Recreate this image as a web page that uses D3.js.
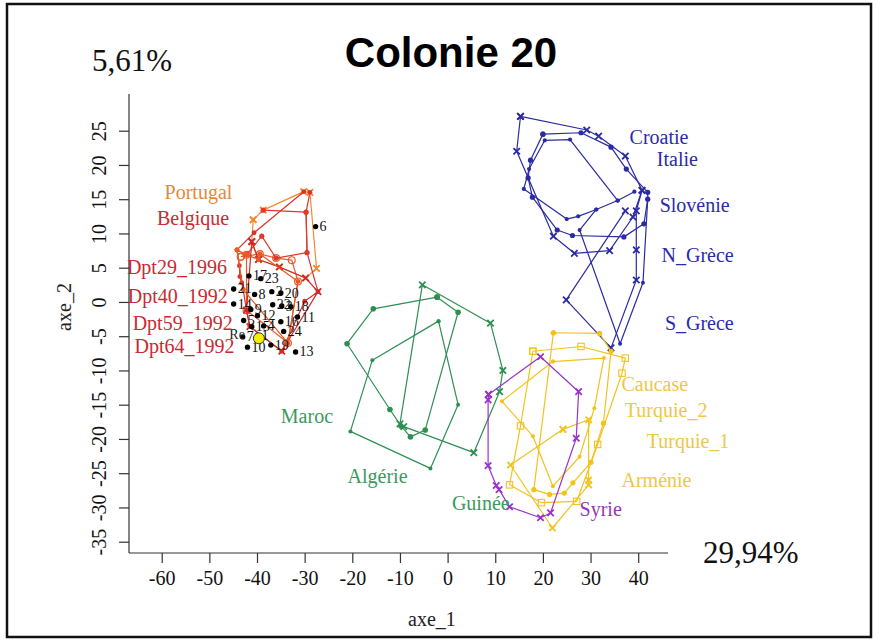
<!DOCTYPE html>
<html>
<head>
<meta charset="utf-8">
<script src="https://cdn.jsdelivr.net/npm/d3@7"></script>
<style>
  html, body { margin: 0; padding: 0; background: #fff; }
  svg { display: block; }
</style>
</head>
<body>
<svg id="chart" width="873" height="640"></svg>
<script>
// ---------------- data ----------------
const xTicks = [-60, -50, -40, -30, -20, -10, 0, 10, 20, 30, 40];
const yTicks = [25, 20, 15, 10, 5, 0, -5, -10, -15, -20, -25, -30, -35];

// trajectories on the factorial plane, points are [axe_1, axe_2]
const croatie  = [[15.3,27.1],[29.2,25.1],[31.7,24.2],[37.3,21.3],[40.8,16.3],[38.9,12.4],[34.0,7.5],[26.6,7.1],[22.2,9.6],[14.5,22.0],[15.3,27.1]];
const italie   = [[20.0,24.5],[28.0,24.7],[34.3,22.6],[37.5,19.4],[42.0,16.0],[42.0,15.0],[41.2,11.4],[37.0,9.5],[26.2,9.7],[23.0,10.5],[17.8,15.3],[16.9,18.1],[17.4,20.7],[20.0,24.5]];
const slovenie = [[39.2,16.1],[35.7,14.8],[25.7,23.7],[20.4,23.6],[17.1,19.4],[16.0,16.5],[25.0,12.1],[27.4,12.5],[31.2,13.5],[35.7,14.8]];
const nGrece   = [[40.8,16.3],[39.6,13.3],[39.6,7.6],[39.6,3.2],[34.3,-6.7],[24.9,0.3],[37.3,13.3]];
const sGrece   = [[42.0,15.0],[41.0,2.8],[36.2,-6.1],[27.7,10.5],[31.2,13.5]];

const maroc    = [[-2.2,0.7],[-15.6,-1.0],[-21.1,-6.1],[-12.1,-15.7],[-9.8,-18.1],[-7.8,-19.7],[-4.7,-18.7],[2.2,-1.5],[-2.2,0.7]];
const algerie  = [[-1.9,-2.8],[-15.8,-8.5],[-20.4,-18.9],[-3.6,-24.3],[2.2,-15.0],[-1.9,-2.8]];
const guinee   = [[-10.0,-17.8],[-5.3,2.5],[9.0,-3.1],[11.6,-10.0],[10.9,-13.1],[5.5,-22.0],[-9.2,-18.2]];

const syrie    = [[8.6,-13.5],[19.5,-8.0],[27.5,-13.1],[27.0,-19.9],[21.6,-30.8],[19.5,-31.5],[13.0,-29.9],[10.8,-27.4],[10.2,-26.8],[8.5,-23.9],[8.5,-14.3],[8.6,-13.5]];

const caucase  = [[22.2,-4.5],[31.9,-4.6],[34.3,-7.2],[32.7,-17.7],[30.1,-23.4],[26.3,-26.4],[24.5,-27.9],[21.4,-28.1],[18.1,-27.4],[22.2,-4.5]];
const turquie1 = [[17.9,-7.2],[28.0,-6.5],[37.3,-8.2],[36.6,-10.4],[31.5,-20.8],[27.1,-29.1],[19.7,-29.3],[13.0,-26.7],[15.3,-18.1],[17.9,-7.2]];
const turquie2 = [[22.1,-8.7],[32.8,-8.2],[30.8,-15.5],[27.7,-22.6],[22.1,-26.9],[17.9,-19.6],[11.4,-14.5],[22.1,-8.7]];
const armenie  = [[24.2,-18.6],[29.6,-17.2],[29.6,-26.0],[29.6,-26.7],[22.0,-33.0],[13.2,-23.8],[24.2,-18.6]];

const portugal = [[-40.8,12.0],[-38.7,13.4],[-30.2,16.1],[-28.9,16.0],[-27.5,4.9],[-29.8,3.5],[-35.3,5.1],[-39.7,6.2],[-41.1,8.8],[-40.8,12.0]];
const belgique = [[-30.2,16.1],[-40.6,10.1],[-44.2,7.6],[-43.7,5.3],[-43.6,3.7],[-43.2,2.8],[-42.9,1.8],[-42.2,-1.2],[-41.5,-3.6],[-34.8,-7.2],[-30.0,0.1],[-27.2,1.5],[-29.5,7.2],[-29.7,13.1],[-28.9,16.0]];
const dpt29    = [[-43.4,6.6],[-39.4,7.0],[-36.0,6.4],[-32.7,6.1],[-31.4,3.0],[-33.5,-6.0],[-42.2,-1.2],[-42.2,6.9],[-43.4,6.6]];
const dpt40    = [[-42.2,6.9],[-39.0,9.6],[-36.0,6.4],[-29.5,7.2],[-29.7,13.1],[-38.7,13.4]];
const dpt59    = [[-41.1,8.8],[-39.7,6.2],[-35.3,5.1],[-29.8,3.5],[-27.2,1.5],[-34.8,-7.2],[-41.5,-3.6],[-42.2,-1.2],[-41.1,8.8]];
const dpt64    = [[-44.2,7.6],[-42.2,6.9],[-39.7,6.2],[-39.4,7.0],[-31.4,3.0],[-33.5,-6.0],[-42.9,1.8],[-44.2,7.6]];

// individual colonies (numbered) and the reference colony
const sampleIds = ["17","23","21","8","2","20","14","22","3","18","11","16","24","5","12","9","4","15","1","7","10","19","13","6"];
const sampleX   = [-41.7,-39.2,-44.9,-40.5,-36.9,-35.0,-44.9,-36.7,-34.8,-32.9,-31.5,-35.0,-34.4,-42.8,-39.9,-41.3,-38.6,-41.1,-39.9,-43.0,-42.0,-37.1,-31.9,-27.7];
const sampleY   = [3.8,3.4,1.9,1.1,1.5,1.3,-0.3,-0.4,-0.6,-0.7,-2.2,-2.9,-4.3,-2.7,-2.0,-1.1,-3.5,-3.6,-4.9,-5.1,-6.6,-6.3,-7.3,11.0];
const refName   = "Re";
const refPoint  = [-39.6,-5.3];

// group labels, anchored at [axe_1, axe_2]
const groupLabels = [
  {text:"Croatie",    at:[38.2,23.1],  group:"blue"},
  {text:"Italie",     at:[43.9,19.9],  group:"blue"},
  {text:"Slovénie",   at:[44.5,13.2],  group:"blue"},
  {text:"N_Grèce",    at:[44.9,5.9],   group:"blue"},
  {text:"S_Grèce",    at:[45.6,-4.1],  group:"blue"},
  {text:"Portugal",   at:[-59.4,15.1], group:"orange"},
  {text:"Belgique",   at:[-61.0,11.3], group:"red"},
  {text:"Dpt29_1996", at:[-67.3,4.1],  group:"red"},
  {text:"Dpt40_1992", at:[-67.1,-0.1], group:"red"},
  {text:"Dpt59_1992", at:[-66.1,-4.1], group:"red"},
  {text:"Dpt64_1992", at:[-65.7,-7.4], group:"red"},
  {text:"Maroc",      at:[-35.0,-17.6],group:"green"},
  {text:"Algérie",    at:[-21.0,-26.4],group:"green"},
  {text:"Guinée",     at:[0.9,-30.3],  group:"green"},
  {text:"Syrie",      at:[27.7,-31.2], group:"purple"},
  {text:"Caucase",    at:[36.5,-13.0], group:"yellow"},
  {text:"Turquie_2",  at:[37.2,-16.8], group:"yellow"},
  {text:"Turquie_1",  at:[41.8,-21.3], group:"yellow"},
  {text:"Arménie",    at:[36.5,-27.0], group:"yellow"}
];

// ---------------- styles ----------------
const labelColor = {
  blue: "#2a2aae", orange: "#e8873a", red: "#c92a30",
  green: "#3a9a5c", purple: "#9436b8", yellow: "#efc64a"
};

const series = [
  {pts: croatie,  stroke:"#2b2ba3", marker:"x",      size:3.2},
  {pts: italie,   stroke:"#2b2ba3", marker:"dot",    size:2.6},
  {pts: slovenie, stroke:"#2b2ba3", marker:"dot",    size:2.1},
  {pts: nGrece,   stroke:"#2b2ba3", marker:"x",      size:3.2},
  {pts: sGrece,   stroke:"#2b2ba3", marker:"dot",    size:2.0},
  {pts: maroc,    stroke:"#2f8f52", marker:"dot",    size:2.8},
  {pts: algerie,  stroke:"#2f8f52", marker:"dot",    size:2.0},
  {pts: guinee,   stroke:"#2f8f52", marker:"x",      size:3.2},
  {pts: caucase,  stroke:"#f2c31c", marker:"dot",    size:2.6},
  {pts: turquie1, stroke:"#f2c31c", marker:"square", size:3.2},
  {pts: turquie2, stroke:"#f2c31c", marker:"dot",    size:2.0},
  {pts: armenie,  stroke:"#f2c31c", marker:"x",      size:3.2},
  {pts: syrie,    stroke:"#9b32c8", marker:"x",      size:3.2},
  {pts: portugal, stroke:"#f08a30", marker:"x",      size:3.2},
  {pts: belgique, stroke:"#d8342c", marker:"dot",    size:2.4},
  {pts: dpt29,    stroke:"#e85a2c", marker:"circle", size:3.4},
  {pts: dpt40,    stroke:"#dd3a2a", marker:"dot",    size:2.6},
  {pts: dpt59,    stroke:"#d02a2a", marker:"x",      size:3.2},
  {pts: dpt64,    stroke:"#ea5a22", marker:"dot",    size:2.4}
];

// ---------------- drawing ----------------
const svg = d3.select("#chart");
const W = 873, H = 640;
const serif = "'Liberation Serif', 'Times New Roman', serif";

svg.append("rect").attr("width", W).attr("height", H).attr("fill", "#fff");
svg.append("rect")
  .attr("x", 7).attr("y", 4).attr("width", 864).attr("height", 633)
  .attr("fill", "none").attr("stroke", "#111").attr("stroke-width", 2.5);

const x = d3.scaleLinear().domain([-60, 40]).range([161.7, 638.2]);
const y = d3.scaleLinear().domain([-35, 25]).range([541.7, 130.7]);

// axis frame (left and bottom only)
const axisLeftX = 129, axisBottomY = 553;
svg.append("line")
  .attr("x1", axisLeftX).attr("x2", axisLeftX).attr("y1", 94).attr("y2", axisBottomY)
  .attr("stroke", "#333").attr("stroke-width", 1.2);
svg.append("line")
  .attr("x1", axisLeftX).attr("x2", 668).attr("y1", axisBottomY).attr("y2", axisBottomY)
  .attr("stroke", "#333").attr("stroke-width", 1.2);

const gx = svg.append("g").attr("transform", `translate(0,${axisBottomY})`)
  .call(d3.axisBottom(x).tickValues(xTicks).tickSize(10).tickPadding(8).tickFormat(d3.format("d")));
gx.select(".domain").remove();
gx.selectAll(".tick line").attr("stroke", "#333").attr("stroke-width", 1.2);
gx.selectAll(".tick text")
  .attr("font-family", serif).attr("font-size", 20).attr("fill", "#111")
  .text(d => d < 0 ? "-" + Math.abs(d) : d);

const gy = svg.append("g").attr("transform", `translate(${axisLeftX},0)`)
  .call(d3.axisLeft(y).tickValues(yTicks).tickSize(10).tickFormat(d3.format("d")));
gy.select(".domain").remove();
gy.selectAll(".tick line").attr("stroke", "#333").attr("stroke-width", 1.2);
gy.selectAll(".tick text")
  .attr("font-family", serif).attr("font-size", 20).attr("fill", "#111")
  .attr("text-anchor", "middle").attr("dy", null)
  .attr("x", null)
  .attr("transform", "translate(-23,0) rotate(-90)")
  .text(d => d < 0 ? "-" + Math.abs(d) : d);

svg.append("text")
  .attr("x", 432).attr("y", 626)
  .attr("text-anchor", "middle")
  .attr("font-family", serif).attr("font-size", 20).attr("fill", "#222")
  .text("axe_1");
svg.append("text")
  .attr("transform", "translate(71,307) rotate(-90)")
  .attr("text-anchor", "middle")
  .attr("font-family", serif).attr("font-size", 20).attr("fill", "#222")
  .text("axe_2");

// trajectories
const line = d3.line().x(d => x(d[0])).y(d => y(d[1]));
const plot = svg.append("g");

series.forEach(s => {
  const g = plot.append("g");
  g.append("path")
    .attr("d", line(s.pts))
    .attr("fill", "none").attr("stroke", s.stroke)
    .attr("stroke-width", 1.2).attr("stroke-linejoin", "round");
  const r = s.size;
  if (s.marker === "dot") {
    g.selectAll("circle").data(s.pts).join("circle")
      .attr("cx", d => x(d[0])).attr("cy", d => y(d[1])).attr("r", r)
      .attr("fill", s.stroke);
  } else if (s.marker === "circle") {
    g.selectAll("circle").data(s.pts).join("circle")
      .attr("cx", d => x(d[0])).attr("cy", d => y(d[1])).attr("r", r)
      .attr("fill", "none").attr("stroke", s.stroke).attr("stroke-width", 1.2);
  } else if (s.marker === "square") {
    g.selectAll("rect").data(s.pts).join("rect")
      .attr("x", d => x(d[0]) - r).attr("y", d => y(d[1]) - r)
      .attr("width", 2 * r).attr("height", 2 * r)
      .attr("fill", "none").attr("stroke", s.stroke).attr("stroke-width", 1.1);
  } else if (s.marker === "x") {
    g.selectAll("path.mk").data(s.pts).join("path").attr("class", "mk")
      .attr("d", d => {
        const cx = x(d[0]), cy = y(d[1]);
        return `M${cx - r},${cy - r}L${cx + r},${cy + r}M${cx - r},${cy + r}L${cx + r},${cy - r}`;
      })
      .attr("stroke", s.stroke).attr("stroke-width", 1.8).attr("fill", "none");
  }
});

// numbered colonies
const samples = sampleIds.map((id, i) => ({id, x: sampleX[i], y: sampleY[i]}));
const sg = svg.append("g");
sg.selectAll("circle").data(samples).join("circle")
  .attr("cx", d => x(d.x)).attr("cy", d => y(d.y)).attr("r", 2.7).attr("fill", "#000");
sg.selectAll("text").data(samples).join("text")
  .attr("x", d => x(d.x) + 4).attr("y", d => y(d.y) + 4.5)
  .attr("font-family", serif).attr("font-size", 14).attr("fill", "#111")
  .text(d => d.id);

// reference colony
svg.append("circle")
  .attr("cx", x(refPoint[0])).attr("cy", y(refPoint[1])).attr("r", 5.5)
  .attr("fill", "#f4f000").attr("stroke", "#333").attr("stroke-width", 1);
svg.append("text")
  .attr("x", x(refPoint[0]) - 14).attr("y", y(refPoint[1]) + 1)
  .attr("text-anchor", "end")
  .attr("font-family", serif).attr("font-size", 14).attr("fill", "#222")
  .text(refName);

// group labels
svg.append("g").selectAll("text").data(groupLabels).join("text")
  .attr("x", d => x(d.at[0])).attr("y", d => y(d.at[1]))
  .attr("font-family", serif).attr("font-size", 20)
  .attr("fill", d => labelColor[d.group])
  .text(d => d.text);

// title and inertia percentages
svg.append("text")
  .attr("x", 451).attr("y", 67).attr("text-anchor", "middle")
  .attr("font-family", "'Liberation Sans', Arial, sans-serif")
  .attr("font-weight", "bold").attr("font-size", 42).attr("fill", "#000")
  .text("Colonie 20");
svg.append("text")
  .attr("x", 92).attr("y", 71)
  .attr("font-family", serif).attr("font-size", 31).attr("fill", "#111")
  .text("5,61%");
svg.append("text")
  .attr("x", 703).attr("y", 563)
  .attr("font-family", serif).attr("font-size", 31).attr("fill", "#111")
  .text("29,94%");
</script>
</body>
</html>
